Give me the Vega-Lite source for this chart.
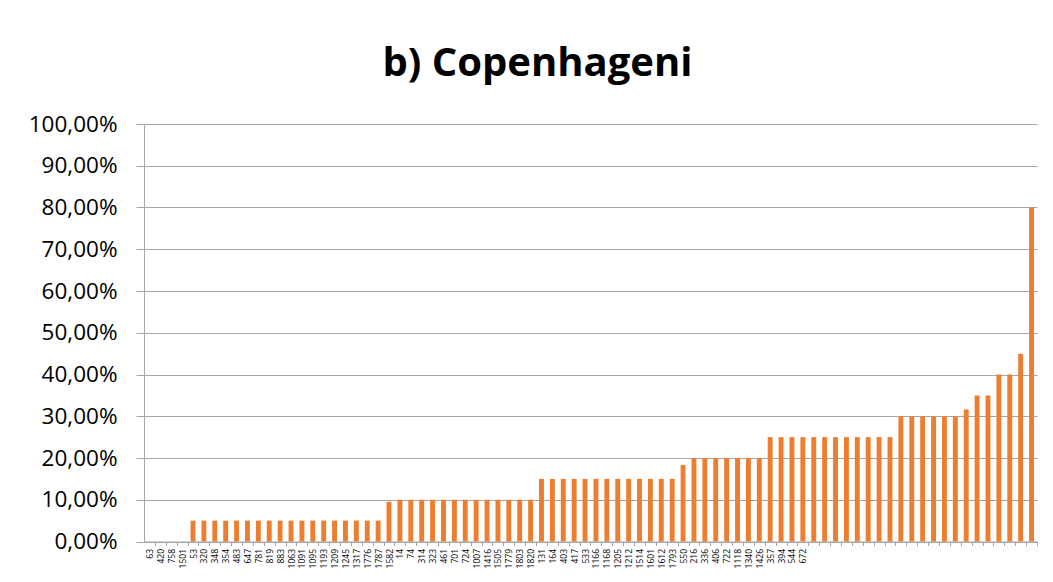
{
  "$schema": "https://vega.github.io/schema/vega-lite/v6.json",
  "width": 893,
  "height": 417.5,
  "autosize": {"type": "none"},
  "padding": {"left": 144, "top": 124, "right": 16, "bottom": 40.5},
  "background": "white",
  "config": {"view": {"stroke": null}, "font": "Open Sans"},
  "title": {
    "text": "b) Copenhageni",
    "font": "Open Sans",
    "fontSize": 40,
    "fontWeight": "bold",
    "color": "black",
    "anchor": "middle",
    "frame": "group",
    "baseline": "alphabetic",
    "offset": -3,
    "dx": -53
  },
  "data": {
    "values": [
      {"id": "63", "v": 0}, {"id": "420", "v": 0}, {"id": "758", "v": 0}, {"id": "1501", "v": 0},
      {"id": "53", "v": 0.05}, {"id": "320", "v": 0.05}, {"id": "348", "v": 0.05}, {"id": "354", "v": 0.05},
      {"id": "483", "v": 0.05}, {"id": "647", "v": 0.05}, {"id": "781", "v": 0.05}, {"id": "819", "v": 0.05},
      {"id": "883", "v": 0.05}, {"id": "1063", "v": 0.05}, {"id": "1091", "v": 0.05}, {"id": "1095", "v": 0.05},
      {"id": "1193", "v": 0.05}, {"id": "1209", "v": 0.05}, {"id": "1245", "v": 0.05}, {"id": "1317", "v": 0.05},
      {"id": "1776", "v": 0.05}, {"id": "1787", "v": 0.05},
      {"id": "1582", "v": 0.095},
      {"id": "14", "v": 0.10}, {"id": "74", "v": 0.10}, {"id": "314", "v": 0.10}, {"id": "323", "v": 0.10},
      {"id": "461", "v": 0.10}, {"id": "701", "v": 0.10}, {"id": "724", "v": 0.10}, {"id": "1007", "v": 0.10},
      {"id": "1416", "v": 0.10}, {"id": "1505", "v": 0.10}, {"id": "1779", "v": 0.10}, {"id": "1803", "v": 0.10},
      {"id": "1820", "v": 0.10},
      {"id": "131", "v": 0.15}, {"id": "164", "v": 0.15}, {"id": "403", "v": 0.15}, {"id": "417", "v": 0.15},
      {"id": "533", "v": 0.15}, {"id": "1166", "v": 0.15}, {"id": "1168", "v": 0.15}, {"id": "1205", "v": 0.15},
      {"id": "1212", "v": 0.15}, {"id": "1514", "v": 0.15}, {"id": "1601", "v": 0.15}, {"id": "1612", "v": 0.15},
      {"id": "1793", "v": 0.15},
      {"id": "550", "v": 0.183},
      {"id": "216", "v": 0.20}, {"id": "336", "v": 0.20}, {"id": "406", "v": 0.20}, {"id": "722", "v": 0.20},
      {"id": "1118", "v": 0.20}, {"id": "1340", "v": 0.20}, {"id": "1426", "v": 0.20},
      {"id": "357", "v": 0.25}, {"id": "394", "v": 0.25}, {"id": "544", "v": 0.25}, {"id": "672", "v": 0.25},
      {"id": "n1", "v": 0.25}, {"id": "n2", "v": 0.25}, {"id": "n3", "v": 0.25}, {"id": "n4", "v": 0.25},
      {"id": "n5", "v": 0.25}, {"id": "n6", "v": 0.25}, {"id": "n7", "v": 0.25}, {"id": "n8", "v": 0.25},
      {"id": "n9", "v": 0.30}, {"id": "n10", "v": 0.30}, {"id": "n11", "v": 0.30}, {"id": "n12", "v": 0.30},
      {"id": "n13", "v": 0.30}, {"id": "n14", "v": 0.30},
      {"id": "n15", "v": 0.316},
      {"id": "n16", "v": 0.35}, {"id": "n17", "v": 0.35},
      {"id": "n18", "v": 0.40}, {"id": "n19", "v": 0.40},
      {"id": "n20", "v": 0.45},
      {"id": "n21", "v": 0.80}
    ]
  },
  "mark": {"type": "bar", "color": "#ED7D31"},
  "encoding": {
    "x": {
      "field": "id",
      "type": "nominal",
      "sort": null,
      "scale": {"paddingInner": 0.55, "paddingOuter": 0.275},
      "axis": {
        "title": null,
        "labelAngle": 270,
        "labelFontSize": 8.5,
        "labelColor": "black",
        "labelPadding": 3,
        "labelExpr": "indexof(datum.value, 'n') == 0 ? '' : datum.value",
        "tickOffset": 5.445,
        "labelOffset": -5.445,
        "tickSize": 4,
        "tickColor": "#A6A6A6",
        "domainColor": "#A6A6A6",
        "labelOverlap": false,
        "grid": false
      }
    },
    "y": {
      "field": "v",
      "type": "quantitative",
      "scale": {"domain": [0, 1], "nice": false},
      "axis": {
        "title": null,
        "values": [0, 0.1, 0.2, 0.3, 0.4, 0.5, 0.6, 0.7, 0.8, 0.9, 1],
        "labelExpr": "replace(format(datum.value, '.2%'), '.', ',')",
        "labelFont": "Open Sans",
        "labelFontSize": 22.5,
        "labelColor": "black",
        "labelPadding": 19,
        "tickSize": 8,
        "tickColor": "#A6A6A6",
        "domainColor": "#A6A6A6",
        "grid": true,
        "gridColor": "#A6A6A6",
        "gridOpacity": 1
      }
    }
  }
}
